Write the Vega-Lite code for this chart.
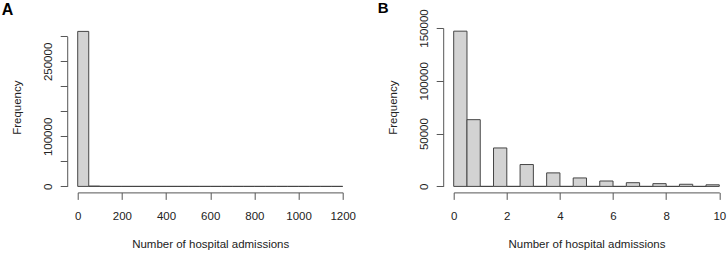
{
  "$schema": "https://vega.github.io/schema/vega-lite/v6.json",
  "padding": {"left": 1.7, "top": 0, "right": 5, "bottom": 2},
  "background": "white",
  "spacing": 111,
  "bounds": "flush",
  "config": {
    "view": {"stroke": null},
    "axis": {
      "grid": false,
      "domainColor": "#555",
      "tickColor": "#555",
      "labelColor": "#222",
      "titleColor": "#222",
      "labelFont": "Liberation Sans",
      "titleFont": "Liberation Sans",
      "labelFontSize": 11.5,
      "titleFontSize": 11.5,
      "titleFontWeight": "normal",
      "tickSize": 7,
      "domainWidth": 1,
      "tickWidth": 1,
      "labelOverlap": false,
      "labelFlush": false,
      "format": "d"
    },
    "axisX": {"offset": 6, "labelPadding": 10.7, "minExtent": 25, "maxExtent": 25, "titlePadding": 21.5},
    "axisY": {"offset": 10.5, "labelAngle": -90, "labelAlign": "center", "labelBaseline": "alphabetic", "labelPadding": 8.7, "minExtent": 30, "maxExtent": 30, "titlePadding": 14.4}
  },
  "hconcat": [
    {
      "width": 265,
      "height": 158.4,
      "title": {"text": "A", "anchor": "start", "frame": "group", "dx": -76, "font": "Liberation Sans", "fontSize": 16, "fontWeight": "bold", "color": "#000", "baseline": "alphabetic", "offset": -3.1},
      "data": {"values": [
        {"start": 0, "end": 50, "count": 310000},
        {"start": 50, "end": 100, "count": 600},
        {"start": 100, "end": 150, "count": 100},
        {"start": 150, "end": 200, "count": 0},
        {"start": 200, "end": 250, "count": 0},
        {"start": 250, "end": 300, "count": 0},
        {"start": 300, "end": 350, "count": 0},
        {"start": 350, "end": 400, "count": 0},
        {"start": 400, "end": 450, "count": 0},
        {"start": 450, "end": 500, "count": 0},
        {"start": 500, "end": 550, "count": 0},
        {"start": 550, "end": 600, "count": 0},
        {"start": 600, "end": 650, "count": 0},
        {"start": 650, "end": 700, "count": 0},
        {"start": 700, "end": 750, "count": 0},
        {"start": 750, "end": 800, "count": 0},
        {"start": 800, "end": 850, "count": 0},
        {"start": 850, "end": 900, "count": 0},
        {"start": 900, "end": 950, "count": 0},
        {"start": 950, "end": 1000, "count": 0},
        {"start": 1000, "end": 1050, "count": 0},
        {"start": 1050, "end": 1100, "count": 0},
        {"start": 1100, "end": 1150, "count": 0},
        {"start": 1150, "end": 1200, "count": 0}
      ]},
      "mark": {"type": "rect", "fill": "#d3d3d3", "stroke": "#444", "strokeWidth": 1, "clip": false},
      "encoding": {
        "x": {"field": "start", "type": "quantitative", "scale": {"domain": [0, 1200], "nice": false, "zero": false},
              "axis": {"title": "Number of hospital admissions", "values": [0, 200, 400, 600, 800, 1000, 1200]}},
        "x2": {"field": "end"},
        "y": {"field": "count", "type": "quantitative", "scale": {"domain": [0, 316800], "nice": false},
              "axis": {"title": "Frequency", "values": [0, 50000, 100000, 150000, 200000, 250000, 300000], "domainDash": [150, 60],
                       "labelExpr": "datum.value == 0 || datum.value == 100000 || datum.value == 250000 ? datum.label : ''"}},
        "y2": {"datum": 0}
      }
    },
    {
      "width": 265.6,
      "height": 158.4,
      "title": {"text": "B", "anchor": "start", "frame": "group", "dx": -76, "font": "Liberation Sans", "fontSize": 15, "fontWeight": "bold", "color": "#000", "baseline": "alphabetic", "offset": -18.7},
      "data": {"values": [
        {"start": 0, "end": 0.5, "count": 147000},
        {"start": 0.5, "end": 1, "count": 63200},
        {"start": 1, "end": 1.5, "count": 0},
        {"start": 1.5, "end": 2, "count": 36400},
        {"start": 2, "end": 2.5, "count": 0},
        {"start": 2.5, "end": 3, "count": 20700},
        {"start": 3, "end": 3.5, "count": 0},
        {"start": 3.5, "end": 4, "count": 12800},
        {"start": 4, "end": 4.5, "count": 0},
        {"start": 4.5, "end": 5, "count": 8000},
        {"start": 5, "end": 5.5, "count": 0},
        {"start": 5.5, "end": 6, "count": 5100},
        {"start": 6, "end": 6.5, "count": 0},
        {"start": 6.5, "end": 7, "count": 3500},
        {"start": 7, "end": 7.5, "count": 0},
        {"start": 7.5, "end": 8, "count": 2600},
        {"start": 8, "end": 8.5, "count": 0},
        {"start": 8.5, "end": 9, "count": 2000},
        {"start": 9, "end": 9.5, "count": 0},
        {"start": 9.5, "end": 10, "count": 1500}
      ]},
      "mark": {"type": "rect", "fill": "#d3d3d3", "stroke": "#444", "strokeWidth": 1},
      "encoding": {
        "x": {"field": "start", "type": "quantitative", "scale": {"domain": [0, 10], "nice": false, "zero": false},
              "axis": {"title": "Number of hospital admissions", "values": [0, 2, 4, 6, 8, 10]}},
        "x2": {"field": "end"},
        "y": {"field": "count", "type": "quantitative", "scale": {"domain": [0, 150000], "nice": false},
              "axis": {"title": "Frequency", "values": [0, 50000, 100000, 150000]}},
        "y2": {"datum": 0}
      }
    }
  ]
}
